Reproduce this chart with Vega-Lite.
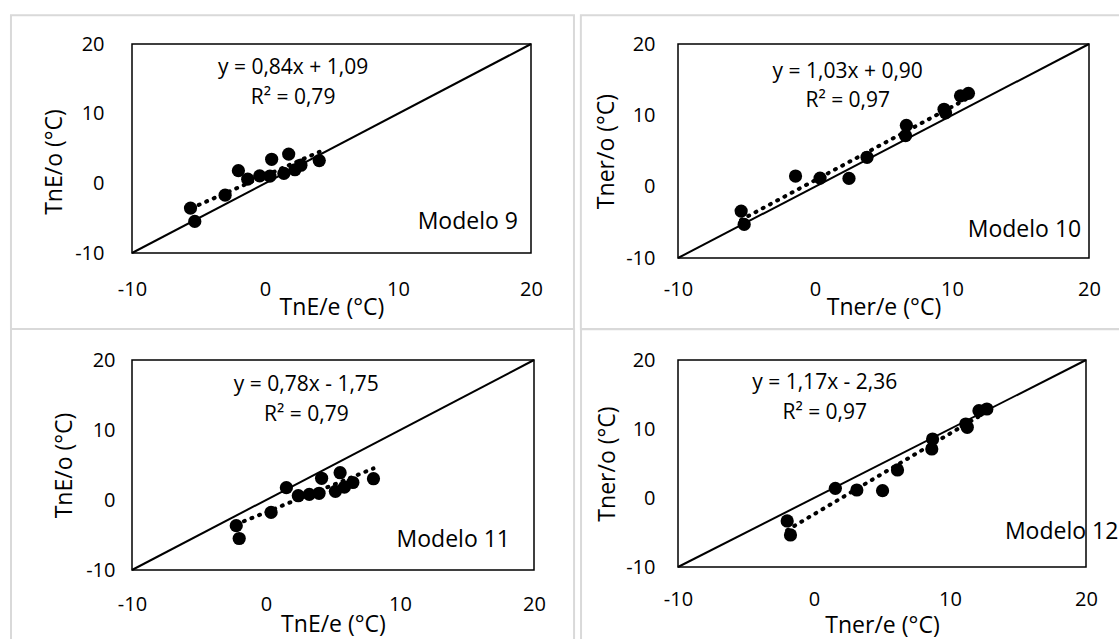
{
  "$schema": "https://vega.github.io/schema/vega-lite/v6.json",
  "padding": {"left": 9, "top": 13, "right": 0, "bottom": 0},
  "background": "white",
  "columns": 2,
  "align": "none",
  "bounds": "full",
  "spacing": {"row": -5, "column": 3},
  "datasets": {
    "ident": [{"x": -10, "y": -10}, {"x": 20, "y": 20}],
    "m9": [
      {"x": -5.6, "y": -3.55}, {"x": -5.28, "y": -5.47}, {"x": -3.0, "y": -1.7}, {"x": -2.0, "y": 1.82},
      {"x": -1.3, "y": 0.6}, {"x": -0.4, "y": 1.08}, {"x": 0.37, "y": 1.04}, {"x": 0.5, "y": 3.45},
      {"x": 1.42, "y": 1.42}, {"x": 1.78, "y": 4.2}, {"x": 2.25, "y": 1.95}, {"x": 2.7, "y": 2.6},
      {"x": 4.08, "y": 3.27}
    ],
    "t9": [{"x": -5.55, "y": -3.57}, {"x": 4.1, "y": 4.53}],
    "m10": [
      {"x": -5.39, "y": -3.42}, {"x": -5.17, "y": -5.29}, {"x": -1.42, "y": 1.49}, {"x": 0.37, "y": 1.2},
      {"x": 2.48, "y": 1.16}, {"x": 3.8, "y": 4.12}, {"x": 6.67, "y": 8.6}, {"x": 6.61, "y": 7.15},
      {"x": 9.42, "y": 10.85}, {"x": 9.53, "y": 10.36}, {"x": 10.62, "y": 12.73}, {"x": 11.2, "y": 13.08}
    ],
    "t10": [{"x": -5.4, "y": -4.66}, {"x": 11.2, "y": 12.44}],
    "m11": [
      {"x": -2.22, "y": -3.67}, {"x": -2.0, "y": -5.5}, {"x": 0.38, "y": -1.77}, {"x": 1.52, "y": 1.76},
      {"x": 2.41, "y": 0.61}, {"x": 3.23, "y": 0.8}, {"x": 3.96, "y": 0.96}, {"x": 4.15, "y": 3.1},
      {"x": 5.18, "y": 1.24}, {"x": 5.53, "y": 3.9}, {"x": 5.85, "y": 1.84}, {"x": 6.48, "y": 2.5},
      {"x": 8.02, "y": 3.04}
    ],
    "t11": [{"x": -2.22, "y": -3.48}, {"x": 8.02, "y": 4.51}],
    "m12": [
      {"x": -1.97, "y": -3.33}, {"x": -1.73, "y": -5.36}, {"x": 1.57, "y": 1.4}, {"x": 3.15, "y": 1.16},
      {"x": 5.04, "y": 1.06}, {"x": 6.14, "y": 4.06}, {"x": 8.72, "y": 8.55}, {"x": 8.66, "y": 7.1},
      {"x": 11.16, "y": 10.72}, {"x": 11.27, "y": 10.25}, {"x": 12.13, "y": 12.65}, {"x": 12.71, "y": 12.9}
    ],
    "t12": [{"x": -1.97, "y": -4.66}, {"x": 12.71, "y": 12.51}]
  },
  "concat": [
    {
      "width": 399, "height": 209,
      "layer": [
        {"data": {"values": [{}]}, "mark": {"type": "rect", "fillOpacity": 0, "stroke": "#d9d9d9", "strokeWidth": 2},
         "encoding": {"x": {"datum": -19.1, "type": "quantitative"}, "x2": {"datum": 23.23}, "y": {"datum": 24.12, "type": "quantitative"}, "y2": {"datum": -20.9}}},
        {"data": {"name": "ident"}, "mark": {"type": "line", "color": "black", "strokeWidth": 2},
         "encoding": {
           "x": {"field": "x", "type": "quantitative", "title": "TnE/e (°C)", "scale": {"domain": [-10, 20], "nice": false, "zero": false},
                 "axis": {"values": [-10, 0, 10, 20], "labelPadding": 26, "titlePadding": -3}},
           "y": {"field": "y", "type": "quantitative", "title": null, "scale": {"domain": [-10, 20], "nice": false, "zero": false},
                 "axis": {"values": [-10, 0, 10, 20], "labelPadding": 28}}}},
        {"data": {"name": "t9"}, "mark": {"type": "line", "color": "black", "strokeWidth": 4, "strokeDash": [1, 7.2], "strokeCap": "round"},
         "encoding": {"x": {"field": "x", "type": "quantitative", "title": "TnE/e (°C)"}, "y": {"field": "y", "type": "quantitative", "title": null}}},
        {"data": {"name": "m9"}, "mark": {"type": "circle", "color": "black", "opacity": 1, "size": 175},
         "encoding": {"x": {"field": "x", "type": "quantitative", "title": "TnE/e (°C)"}, "y": {"field": "y", "type": "quantitative", "title": null}}},
        {"data": {"values": [{}]}, "mark": {"type": "text", "fontSize": 23, "baseline": "middle", "align": "center", "angle": 270},
         "encoding": {"x": {"datum": -15.82, "type": "quantitative"}, "y": {"datum": 3.06, "type": "quantitative"}, "text": {"value": "TnE/o (°C)"}}},
        {"data": {"values": [{}]}, "mark": {"type": "text", "fontSize": 21, "baseline": "middle"},
         "encoding": {"x": {"datum": 2.11, "type": "quantitative"}, "y": {"datum": 16.56, "type": "quantitative"}, "text": {"value": "y = 0,84x + 1,09"}}},
        {"data": {"values": [{}]}, "mark": {"type": "text", "fontSize": 21, "baseline": "middle"},
         "encoding": {"x": {"datum": 2.11, "type": "quantitative"}, "y": {"datum": 12.25, "type": "quantitative"}, "text": {"value": "R² = 0,79"}}},
        {"data": {"values": [{}]}, "mark": {"type": "text", "fontSize": 23, "baseline": "middle", "align": "right"},
         "encoding": {"x": {"datum": 19.02, "type": "quantitative"}, "y": {"datum": -5.5, "type": "quantitative"}, "text": {"value": "Modelo 9"}}}
      ]
    },
    {
      "width": 411, "height": 214,
      "layer": [
        {"data": {"values": [{}]}, "mark": {"type": "rect", "fillOpacity": 0, "stroke": "#d9d9d9", "strokeWidth": 2},
         "encoding": {"x": {"datum": -17.09, "type": "quantitative"}, "x2": {"datum": 22.87}, "y": {"datum": 24.03, "type": "quantitative"}, "y2": {"datum": -20.0}}},
        {"data": {"name": "ident"}, "mark": {"type": "line", "color": "black", "strokeWidth": 2},
         "encoding": {
           "x": {"field": "x", "type": "quantitative", "title": "Tner/e (°C)", "scale": {"domain": [-10, 20], "nice": false, "zero": false},
                 "axis": {"values": [-10, 0, 10, 20], "labelPadding": 21.3, "titlePadding": -3}},
           "y": {"field": "y", "type": "quantitative", "title": "Tner/o (°C)", "scale": {"domain": [-10, 20], "nice": false, "zero": false},
                 "axis": {"values": [-10, 0, 10, 20], "labelPadding": 23, "titlePadding": 7}}}},
        {"data": {"name": "t10"}, "mark": {"type": "line", "color": "black", "strokeWidth": 4, "strokeDash": [1, 7.2], "strokeCap": "round"},
         "encoding": {"x": {"field": "x", "type": "quantitative", "title": "Tner/e (°C)"}, "y": {"field": "y", "type": "quantitative", "title": "Tner/o (°C)"}}},
        {"data": {"name": "m10"}, "mark": {"type": "circle", "color": "black", "opacity": 1, "size": 175},
         "encoding": {"x": {"field": "x", "type": "quantitative", "title": "Tner/e (°C)"}, "y": {"field": "y", "type": "quantitative", "title": "Tner/o (°C)"}}},
        {"data": {"values": [{}]}, "mark": {"type": "text", "fontSize": 21, "baseline": "middle"},
         "encoding": {"x": {"datum": 2.39, "type": "quantitative"}, "y": {"datum": 16.07, "type": "quantitative"}, "text": {"value": "y = 1,03x + 0,90"}}},
        {"data": {"values": [{}]}, "mark": {"type": "text", "fontSize": 21, "baseline": "middle"},
         "encoding": {"x": {"datum": 2.39, "type": "quantitative"}, "y": {"datum": 12.06, "type": "quantitative"}, "text": {"value": "R² = 0,97"}}},
        {"data": {"values": [{}]}, "mark": {"type": "text", "fontSize": 23, "baseline": "middle", "align": "right"},
         "encoding": {"x": {"datum": 19.43, "type": "quantitative"}, "y": {"datum": -6.03, "type": "quantitative"}, "text": {"value": "Modelo 10"}}}
      ]
    },
    {
      "width": 402, "height": 210,
      "layer": [
        {"data": {"values": [{}]}, "mark": {"type": "rect", "fillOpacity": 0, "stroke": "#d9d9d9", "strokeWidth": 2},
         "encoding": {"x": {"datum": -19.03, "type": "quantitative"}, "x2": {"datum": 22.99}, "y": {"datum": 24.43, "type": "quantitative"}, "y2": {"datum": -20.96}}},
        {"data": {"name": "ident"}, "mark": {"type": "line", "color": "black", "strokeWidth": 2},
         "encoding": {
           "x": {"field": "x", "type": "quantitative", "title": "TnE/e (°C)", "scale": {"domain": [-10, 20], "nice": false, "zero": false},
                 "axis": {"values": [-10, 0, 10, 20], "labelPadding": 24.7, "titlePadding": -1.3}},
           "y": {"field": "y", "type": "quantitative", "title": "TnE/o (°C)", "scale": {"domain": [-10, 20], "nice": false, "zero": false},
                 "axis": {"values": [-10, 0, 10, 20], "labelPadding": 17, "titlePadding": 9}}}},
        {"data": {"name": "t11"}, "mark": {"type": "line", "color": "black", "strokeWidth": 4, "strokeDash": [1, 7.2], "strokeCap": "round"},
         "encoding": {"x": {"field": "x", "type": "quantitative", "title": "TnE/e (°C)"}, "y": {"field": "y", "type": "quantitative", "title": "TnE/o (°C)"}}},
        {"data": {"name": "m11"}, "mark": {"type": "circle", "color": "black", "opacity": 1, "size": 175},
         "encoding": {"x": {"field": "x", "type": "quantitative", "title": "TnE/e (°C)"}, "y": {"field": "y", "type": "quantitative", "title": "TnE/o (°C)"}}},
        {"data": {"values": [{}]}, "mark": {"type": "text", "fontSize": 21, "baseline": "middle"},
         "encoding": {"x": {"datum": 3.01, "type": "quantitative"}, "y": {"datum": 16.43, "type": "quantitative"}, "text": {"value": "y = 0,78x - 1,75"}}},
        {"data": {"values": [{}]}, "mark": {"type": "text", "fontSize": 21, "baseline": "middle"},
         "encoding": {"x": {"datum": 3.01, "type": "quantitative"}, "y": {"datum": 12.14, "type": "quantitative"}, "text": {"value": "R² = 0,79"}}},
        {"data": {"values": [{}]}, "mark": {"type": "text", "fontSize": 23, "baseline": "middle", "align": "right"},
         "encoding": {"x": {"datum": 18.21, "type": "quantitative"}, "y": {"datum": -5.7, "type": "quantitative"}, "text": {"value": "Modelo 11"}}}
      ]
    },
    {
      "width": 408, "height": 207,
      "layer": [
        {"data": {"values": [{}]}, "mark": {"type": "rect", "fillOpacity": 0, "stroke": "#d9d9d9", "strokeWidth": 2},
         "encoding": {"x": {"datum": -17.13, "type": "quantitative"}, "x2": {"datum": 23.09}, "y": {"datum": 24.49, "type": "quantitative"}, "y2": {"datum": -21.26}}},
        {"data": {"name": "ident"}, "mark": {"type": "line", "color": "black", "strokeWidth": 2},
         "encoding": {
           "x": {"field": "x", "type": "quantitative", "title": "Tner/e (°C)", "scale": {"domain": [-10, 20], "nice": false, "zero": false},
                 "axis": {"values": [-10, 0, 10, 20], "labelPadding": 22.3, "titlePadding": 5.4}},
           "y": {"field": "y", "type": "quantitative", "title": "Tner/o (°C)", "scale": {"domain": [-10, 20], "nice": false, "zero": false},
                 "axis": {"values": [-10, 0, 10, 20], "labelPadding": 23, "titlePadding": 6}}}},
        {"data": {"name": "t12"}, "mark": {"type": "line", "color": "black", "strokeWidth": 4, "strokeDash": [1, 7.2], "strokeCap": "round"},
         "encoding": {"x": {"field": "x", "type": "quantitative", "title": "Tner/e (°C)"}, "y": {"field": "y", "type": "quantitative", "title": "Tner/o (°C)"}}},
        {"data": {"name": "m12"}, "mark": {"type": "circle", "color": "black", "opacity": 1, "size": 175},
         "encoding": {"x": {"field": "x", "type": "quantitative", "title": "Tner/e (°C)"}, "y": {"field": "y", "type": "quantitative", "title": "Tner/o (°C)"}}},
        {"data": {"values": [{}]}, "mark": {"type": "text", "fontSize": 21, "baseline": "middle"},
         "encoding": {"x": {"datum": 0.79, "type": "quantitative"}, "y": {"datum": 16.6, "type": "quantitative"}, "text": {"value": "y = 1,17x - 2,36"}}},
        {"data": {"values": [{}]}, "mark": {"type": "text", "fontSize": 21, "baseline": "middle"},
         "encoding": {"x": {"datum": 0.79, "type": "quantitative"}, "y": {"datum": 12.36, "type": "quantitative"}, "text": {"value": "R² = 0,97"}}},
        {"data": {"values": [{}]}, "mark": {"type": "text", "fontSize": 23, "baseline": "middle", "align": "right"},
         "encoding": {"x": {"datum": 22.38, "type": "quantitative"}, "y": {"datum": -4.88, "type": "quantitative"}, "text": {"value": "Modelo 12"}}}
      ]
    }
  ],
  "config": {
    "font": "Open Sans",
    "view": {"stroke": "black", "strokeWidth": 1.5},
    "axis": {"grid": false, "ticks": false, "domain": false, "labelFontSize": 20, "labelColor": "black", "titleFontSize": 23, "titleFontWeight": "normal", "titleColor": "black", "labelFlush": false, "labelOverlap": false,
             "labelExpr": "datum.value < 0 ? '-' + abs(datum.value) : '' + datum.value"},
    "text": {"font": "Open Sans", "color": "black"}
  }
}
